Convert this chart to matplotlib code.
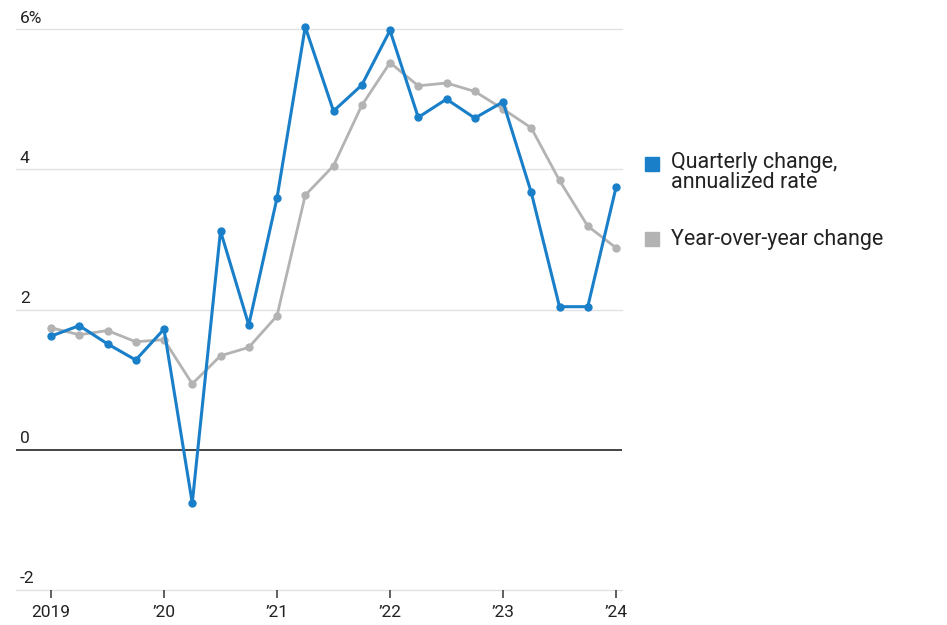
import matplotlib
matplotlib.use("Agg")
import matplotlib.pyplot as plt
import matplotlib.transforms as mtransforms
from matplotlib.patches import Rectangle

plt.rcParams['font.family'] = ['Roboto', 'DejaVu Sans']

# quarters 2019Q1 .. 2024Q1
quarters = [2019 + i * 0.25 for i in range(21)]
quarterly = [1.62, 1.77, 1.51, 1.28, 1.72, -0.76, 3.12, 1.78, 3.59, 6.03, 4.83,
             5.20, 5.98, 4.74, 5.00, 4.73, 4.96, 3.67, 2.04, 2.04, 3.74]
yoy = [1.74, 1.64, 1.70, 1.54, 1.57, 0.94, 1.34, 1.46, 1.91, 3.63, 4.05,
       4.91, 5.52, 5.19, 5.23, 5.11, 4.86, 4.59, 3.84, 3.19, 2.88]
year_ticks = [2019, 2020, 2021, 2022, 2023, 2024]
year_labels = ['2019', '\u201920', '\u201921', '\u201922', '\u201923', '\u201924']
y_ticks = [-2, 0, 2, 4, 6]
y_labels = ['-2', '0', '2', '4', '6%']

blue = '#1a7fc9'
gray = '#b3b3b3'
text_col = '#222222'

fig = plt.figure(figsize=(9.47, 6.25), dpi=100)
ax = fig.add_axes([16 / 947, 1 - 590 / 625, (622 - 16) / 947, (590 - 15) / 625])

ax.set_ylim(-2, 6.2)
ax.set_xlim(2019 - 35 / 113, 2024 + 6 / 113)

for v in y_ticks:
    if v == 0:
        ax.axhline(v, color='#444444', lw=1.4, zorder=2)
    else:
        ax.axhline(v, color='#e2e2e2', lw=1.0, zorder=1, clip_on=False)

ax.plot(quarters, yoy, color=gray, lw=2.0, marker='o', ms=5, zorder=3)
ax.plot(quarters, quarterly, color=blue, lw=2.2, marker='o', ms=5, zorder=4)

for s in ax.spines.values():
    s.set_visible(False)
ax.set_yticks([])
ax.set_xticks(year_ticks)
ax.set_xticklabels(year_labels, fontsize=12.5, color=text_col)
ax.tick_params(axis='x', length=6, width=1.2, color='#444444', pad=5)

trans = mtransforms.blended_transform_factory(ax.transAxes, ax.transData)
for v, lab in zip(y_ticks, y_labels):
    ax.text(4 / 606, v + 0.05, lab, transform=trans, fontsize=12.5,
            color=text_col, ha='left', va='bottom')

# legend
fig.patches.append(Rectangle((645 / 947, 1 - 171 / 625), 14 / 947, 14 / 625,
                             transform=fig.transFigure, color=blue))
fig.text(671 / 947, 1 - 188 / 625, 'Quarterly change,\nannualized rate',
         fontsize=15.5, color=text_col, ha='left', va='baseline', linespacing=0.92)
fig.patches.append(Rectangle((645 / 947, 1 - 246 / 625), 14 / 947, 14 / 625,
                             transform=fig.transFigure, color=gray))
fig.text(671 / 947, 1 - 245 / 625, 'Year-over-year change',
         fontsize=15.5, color=text_col, ha='left', va='baseline')

fig.savefig('out.png', dpi=100)
